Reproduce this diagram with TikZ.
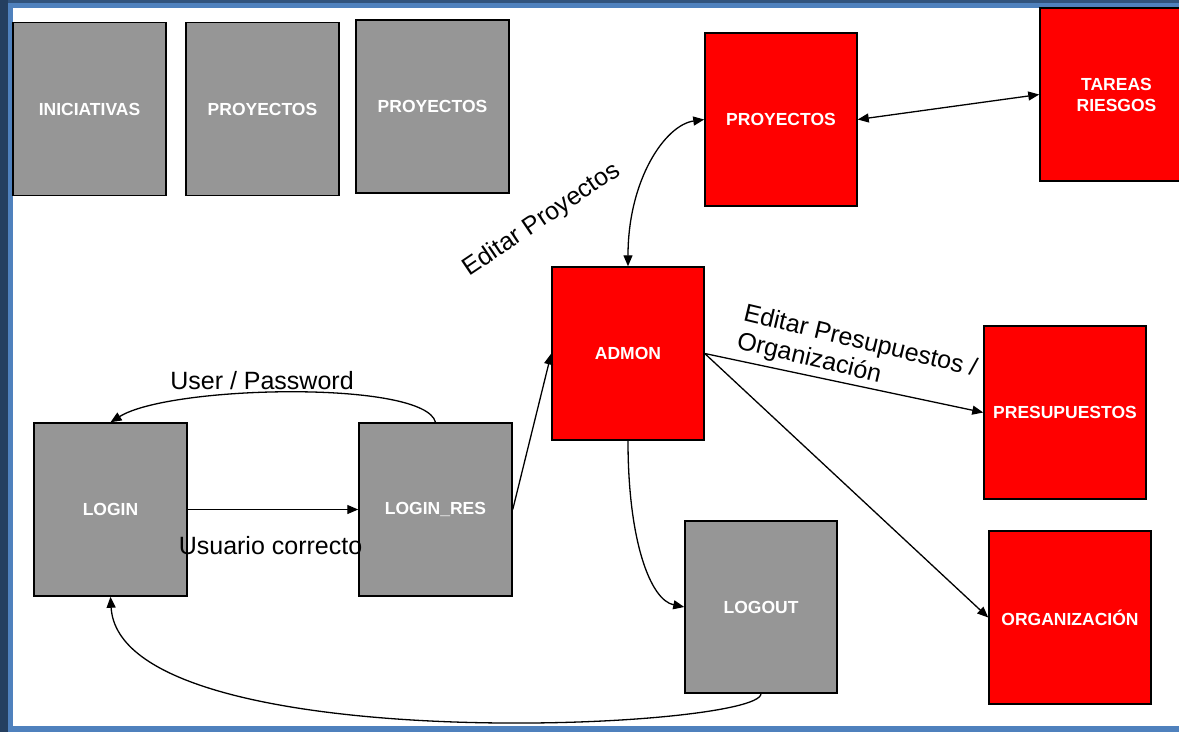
\documentclass[tikz,border=0pt]{standalone}
\usepackage{fontspec}
\setmainfont{Liberation Sans}
\usetikzlibrary{arrows.meta}

\definecolor{marcoclaro}{HTML}{4F81BD}
\definecolor{marcooscuro}{HTML}{243F60}
\definecolor{grisbox}{HTML}{969696}

\tikzset{
  caja/.style={draw=black, line width=1.5pt, inner sep=0pt, text=white,
    font=\fontsize{17.5}{21}\selectfont\bfseries, align=center,
    minimum width=153pt, minimum height=173pt},
  cajagris/.style={caja, fill=grisbox},
  cajaroja/.style={caja, fill=red},
  etiqueta/.style={font=\fontsize{25}{28.5}\selectfont, inner sep=0pt},
  flecha/.style={line width=1.3pt, -{Triangle[length=11pt,width=9pt]}},
  dobleflecha/.style={line width=1.3pt, {Triangle[length=11pt,width=9pt]}-{Triangle[length=11pt,width=9pt]}}
}

\begin{document}
\begin{tikzpicture}[x=1pt,y=1pt]
    \clip (0,0) rectangle (1179,-732);
    % marco
    \fill[marcoclaro] (0,0) rectangle (1179,-732);
    \fill[marcooscuro] (0,0) rectangle (8,-732);
    \fill[marcooscuro!70!marcoclaro] (8,0) rectangle (1179,-2.5);
    \fill[white] (13,-8) rectangle (1179,-726);

    % cajas
    \node[cajagris] (iniciativas) at (89.5,-109) {INICIATIVAS};
    \node[cajagris] (proyectosA) at (262.5,-109) {PROYECTOS};
    \node[cajagris] (proyectosB) at (432.5,-106.5) {PROYECTOS};
    \node[cajaroja, minimum width=152pt] (proyectos) at (781,-119.5) {PROYECTOS};
    \node[cajaroja] (tareas) at (1116.5,-94.5) {TAREAS\\RIESGOS};
    \node[cajaroja, minimum width=152pt] (admon) at (628,-353.5) {ADMON};
    \node[cajaroja, minimum width=162pt] (presupuestos) at (1065,-412.5) {PRESUPUESTOS};
    \node[cajaroja, minimum width=162pt] (organizacion) at (1070,-617.5) {ORGANIZACIÓN};
    \node[cajagris, minimum width=152pt, minimum height=172pt] (logout) at (761,-607) {LOGOUT};
    \node[cajagris] (login) at (110.5,-509.5) {LOGIN};
    \node[cajagris] (loginres) at (435.5,-509.5) {LOGIN\_RES};

    % conexiones
    \draw[flecha] (login.east) -- (loginres.west);
    \draw[flecha] (loginres.north) .. controls (425,-380) and (170,-385) .. (login.north);
    \draw[flecha] (loginres.east) -- (admon.west);
    \draw[dobleflecha] (admon.north) .. controls (628,-180) and (665,-125) .. (proyectos.west);
    \draw[dobleflecha] (proyectos.east) -- (tareas.west);
    \draw[flecha] (admon.east) -- (presupuestos.west);
    \draw[flecha] (admon.east) -- (organizacion.west);
    \draw[flecha] (admon.south) .. controls (628,-540) and (650,-600) .. (logout.west);
    \draw[flecha] (logout.south) .. controls (760,-730) and (120,-760) .. (login.south);

    % etiquetas
    \node[etiqueta] (userpw) at (262,-380.5) {User / Password};
    \node[etiqueta] (usuario) at (270.5,-546) {Usuario correcto};
    \node[etiqueta, rotate=34] (editproy) at (542,-220) {Editar Proyectos};
    \node[etiqueta, rotate=-13.5, align=left] (editpres) at (857,-356) {Editar Presupuestos /\\Organización};
\end{tikzpicture}
\end{document}
